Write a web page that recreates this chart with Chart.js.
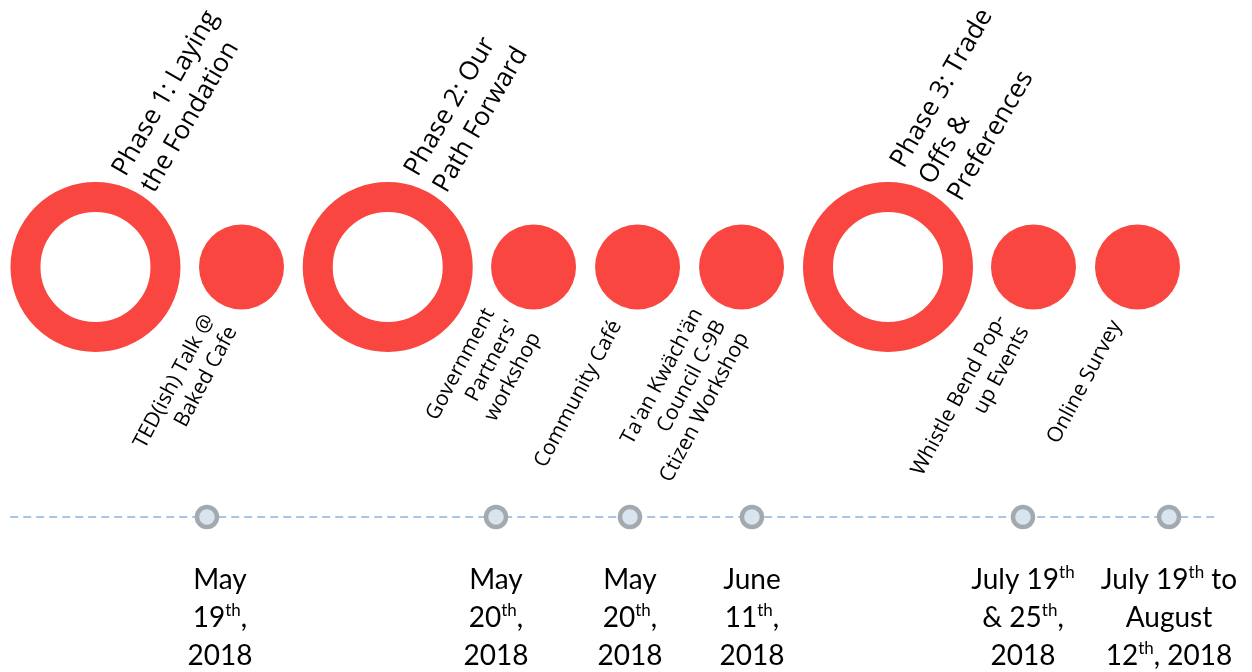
<!DOCTYPE html>
<html>
<head>
<meta charset="utf-8">
<script src="https://cdn.jsdelivr.net/npm/chart.js@4.4.1/dist/chart.umd.min.js"></script>
<style>
  html, body { margin: 0; padding: 0; background: #fff; }
  #wrap { width: 1252px; height: 672px; }
</style>
</head>
<body>
<div id="wrap"><canvas id="myChart" width="1252" height="672"></canvas></div>
<script>
// timeline position in "slots" (1 slot = gap between two neighbouring event circles)
const phaseNames = ['Phase 1: Laying\nthe Fondation', 'Phase 2: Our\nPath Forward', 'Phase 3: Trade\nOffs &\nPreferences'];
const phaseSlots = [0, 2.81, 7.62];

const eventNames = ["TED(ish) Talk @\nBaked Cafe", "Government\nPartners'\nworkshop", 'Community Café',
  "Ta'an Kwäch'än\nCouncil C-9B\nCtizen Workshop", 'Whistle Bend Pop-\nup Events', 'Online Survey'];
const eventSlots = [1.404, 4.212, 5.212, 6.212, 9.019, 10.019];

// {..} = superscript
const dateLabels = [
  ['May', '19{th},', '2018'],
  ['May', '20{th},', '2018'],
  ['May', '20{th},', '2018'],
  ['June', '11{th},', '2018'],
  ['July 19{th}', '& 25{th},', '2018'],
  ['July 19{th} to', 'August', '12{th}, 2018']
];
const dateSlots = [1.072, 3.851, 5.139, 6.312, 8.918, 10.322];
const axisSlots = [-0.82, 10.77];

const red = '#F94640';

const ROW_EVENTS = 1, ROW_DATES = 0;

function drawBlock(ctx, text, x, y, angle, font, lineH, align) {
  const lines = text.split('\n');
  ctx.save();
  ctx.translate(x, y);
  ctx.rotate(angle);
  ctx.font = font;
  ctx.fillStyle = '#000';
  ctx.textAlign = align;
  ctx.textBaseline = 'middle';
  const off = (lines.length - 1) / 2;
  lines.forEach((ln, i) => ctx.fillText(ln, 0, (i - off) * lineH));
  ctx.restore();
}

function drawRich(ctx, line, cx, y, mainFont, supFont, rise) {
  const segs = line.split(/(\{[^}]*\})/).filter(s => s).map(p =>
    p[0] === '{' ? { t: p.slice(1, -1), sup: true } : { t: p, sup: false });
  let w = 0;
  segs.forEach(s => {
    ctx.font = s.sup ? supFont : mainFont;
    s.w = ctx.measureText(s.t).width;
    w += s.w;
  });
  let x = cx - w / 2;
  ctx.textAlign = 'left';
  ctx.textBaseline = 'alphabetic';
  segs.forEach(s => {
    ctx.font = s.sup ? supFont : mainFont;
    ctx.fillText(s.t, x, s.sup ? y - rise : y);
    x += s.w;
  });
}

const labelPlugin = {
  id: 'labels',
  afterDatasetsDraw(chart, args, opts) {
    const ctx = chart.ctx;
    const sx = chart.scales.x, sy = chart.scales.y;
    const yEv = sy.getPixelForValue(ROW_EVENTS);
    const yDt = sy.getPixelForValue(ROW_DATES);

    phaseNames.forEach((t, i) => {
      const x = sx.getPixelForValue(phaseSlots[i]);
      drawBlock(ctx, t, x + 38, yEv - 85, -60 * Math.PI / 180, '26px "Open Sans"', 33, 'left');
    });
    eventNames.forEach((t, i) => {
      const x = sx.getPixelForValue(eventSlots[i]);
      drawBlock(ctx, t, x - 21, yEv + 55, -62 * Math.PI / 180, '21px "Open Sans"', 26, 'right');
    });
    ctx.save();
    ctx.fillStyle = '#000';
    dateLabels.forEach((lines, i) => {
      const x = sx.getPixelForValue(dateSlots[i]) + opts.dateShift[i];
      lines.forEach((ln, j) => {
        drawRich(ctx, ln, x, yDt + 72 + j * 38, '28px Lato', '17px Lato', 11);
      });
    });
    ctx.restore();
  }
};

const ctx = document.getElementById('myChart').getContext('2d');
let myChart = new Chart(ctx, {
  type: 'scatter',
  data: {
    datasets: [
      {
        label: 'phases',
        data: phaseSlots.map(s => ({ x: s, y: ROW_EVENTS })),
        pointRadius: 70,
        pointBorderWidth: 30,
        pointBackgroundColor: '#fff',
        pointBorderColor: red,
        order: 1
      },
      {
        label: 'events',
        data: eventSlots.map(s => ({ x: s, y: ROW_EVENTS })),
        pointRadius: 42.5,
        pointBorderWidth: 0,
        pointBackgroundColor: red,
        pointBorderColor: red,
        order: 1
      },
      {
        label: 'dates',
        data: dateSlots.map(s => ({ x: s, y: ROW_DATES })),
        pointRadius: 10,
        pointBorderWidth: 4.5,
        pointBackgroundColor: '#D8E5EF',
        pointBorderColor: '#A3A9AE',
        order: 1
      },
      {
        label: 'axis',
        type: 'line',
        data: axisSlots.map(s => ({ x: s, y: ROW_DATES })),
        borderColor: '#8DB3DA',
        borderWidth: 1.6,
        borderDash: [8, 5],
        pointRadius: 0,
        order: 2
      }
    ]
  },
  options: {
    responsive: false,
    animation: false,
    clip: false,
    layout: { padding: 0, autoPadding: false },
    plugins: {
      legend: { display: false },
      tooltip: { enabled: false },
      labels: { dateShift: [13, 0, 0, 0, 0, 0] }
    },
    scales: {
      x: { type: 'linear', display: false, min: -0.918, max: 11.12 },
      y: { type: 'linear', display: false, min: -0.62, max: 2.068 }
    }
  },
  plugins: [labelPlugin]
});
</script>
</body>
</html>
